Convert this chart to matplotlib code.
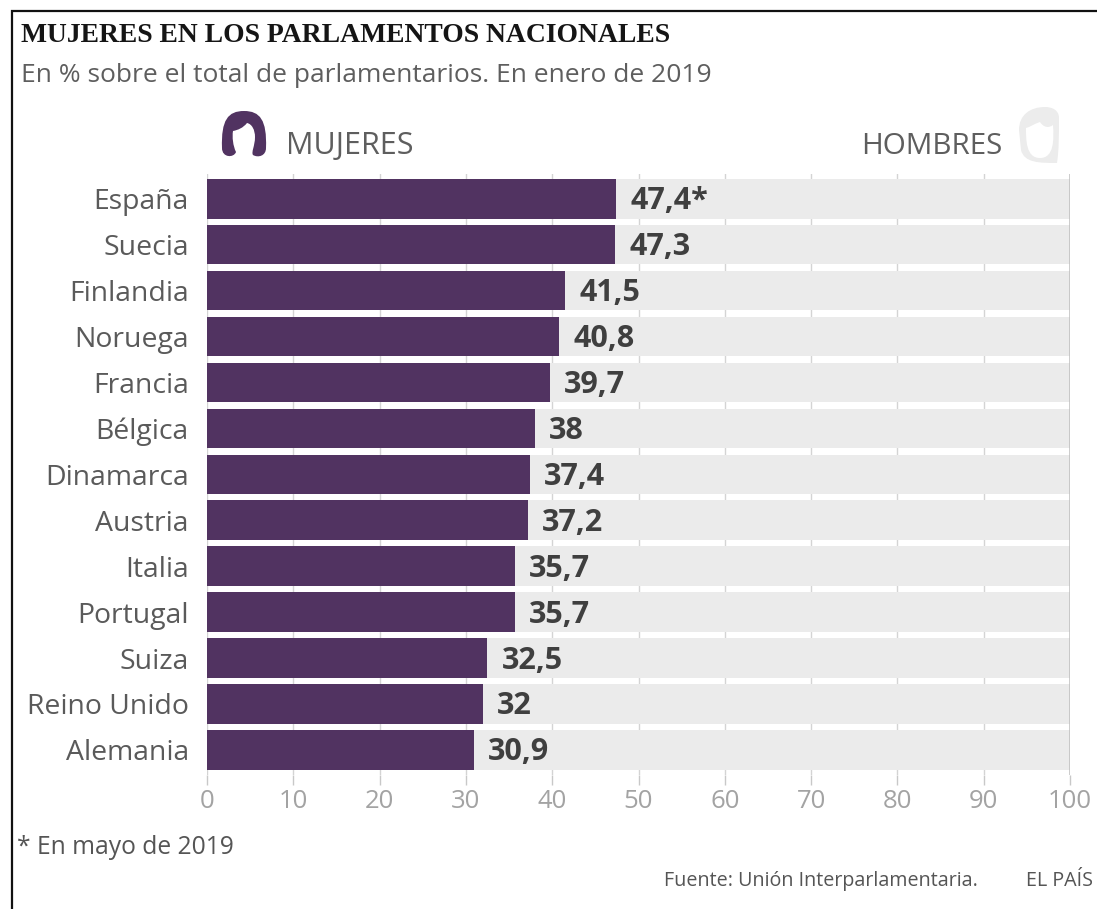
import matplotlib
matplotlib.use('Agg')
import matplotlib.pyplot as plt
from matplotlib.path import Path
from matplotlib.patches import PathPatch

# Data
paises = ['España', 'Suecia', 'Finlandia', 'Noruega', 'Francia', 'Bélgica', 'Dinamarca',
          'Austria', 'Italia', 'Portugal', 'Suiza', 'Reino Unido', 'Alemania']
mujeres = [47.4, 47.3, 41.5, 40.8, 39.7, 38, 37.4, 37.2, 35.7, 35.7, 32.5, 32, 30.9]
etiquetas = ['47,4*', '47,3', '41,5', '40,8', '39,7', '38', '37,4', '37,2', '35,7', '35,7', '32,5', '32', '30,9']
total = 100
ticks = [0, 10, 20, 30, 40, 50, 60, 70, 80, 90, 100]

W, H = 1097, 909
MORADO = '#513361'
GRIS = '#ebebeb'
TEXTO = '#555555'

plt.rcParams['font.family'] = ['Open Sans', 'DejaVu Sans']

fig = plt.figure(figsize=(W / 100, H / 100), dpi=100, facecolor='white')

# Main axes, pixel limits
top, bottom = 174, 775
ax = fig.add_axes([207 / W, 1 - bottom / H, 863 / W, (bottom - top) / H])
ypos = list(range(len(paises)))
pitch = 45.92
ax.set_ylim((bottom - 198.8) / pitch, (top - 198.8) / pitch)
ax.set_xlim(0, total)

ax.barh(ypos, [total] * len(paises), height=0.86, color=GRIS, zorder=2)
ax.barh(ypos, mujeres, height=0.86, color=MORADO, zorder=3)
for t in ticks[:-1]:
    ax.axvline(t, color='#d4d4d4', lw=1, zorder=1)
ax.axvline(100, color='#bdbdbd', lw=1.8, zorder=4)

for y, v, e in zip(ypos, mujeres, etiquetas):
    ax.annotate(e, (v, y), xytext=(14, 1), textcoords='offset pixels', va='center_baseline', ha='left',
                fontsize=22, fontweight='bold', color='#3f3f3f', zorder=5)

ax.set_yticks(ypos)
ax.set_yticklabels(paises, fontsize=20.4, color='#5a5a5a')
ax.set_xticks(ticks)
ax.set_xticklabels(ticks, fontsize=18.5, color='#a3a3a3')
ax.tick_params(axis='y', length=0, pad=13)
ax.tick_params(axis='x', length=7, width=1, color='#c8c8c8', pad=3)
for s in ax.spines.values():
    s.set_visible(False)

# Overlay in pixel coordinates for the frame, texts and icons
ov = fig.add_axes([0, 0, 1, 1], zorder=10)
ov.set_xlim(0, W)
ov.set_ylim(H, 0)
ov.axis('off')
ov.patch.set_alpha(0)

ov.plot([12, 12, W], [H, 11, 11], color='#111111', lw=1.6, solid_joinstyle='miter')

ov.text(21, 35, 'MUJERES EN LOS PARLAMENTOS NACIONALES', fontsize=19.9, fontweight='bold',
        family='Liberation Serif', color='#151515', va='center', ha='left')
ov.text(21, 75, 'En % sobre el total de parlamentarios. En enero de 2019', fontsize=19,
        color='#5e5e5e', va='center', ha='left')
ov.text(286, 146, 'MUJERES', fontsize=22, color='#5e5e5e', va='center', ha='left')
ov.text(1002, 146, 'HOMBRES', fontsize=21.3, color='#5e5e5e', va='center', ha='right')
ov.text(17, 848, '* En mayo de 2019', fontsize=17.7, color='#555555', va='center', ha='left')
ov.text(664, 881, 'Fuente: Unión Interparlamentaria.', fontsize=14.2, color=TEXTO, va='center', ha='left')
ov.text(1026, 881, 'EL PAÍS', fontsize=14.2, color=TEXTO, va='center', ha='left', clip_on=True)

# Woman icon
M, L, C, Z = Path.MOVETO, Path.LINETO, Path.CURVE4, Path.CLOSEPOLY
mujer = Path(
    [(222, 148), (221, 120), (228, 111), (244, 111), (260, 111), (267, 120), (266, 148),
     (266, 156), (258, 158), (253, 155), (251, 152), (255, 146), (255, 137),
     (255, 130), (252, 124), (247, 123), (243, 128), (238, 130), (233, 131),
     (232, 137), (233, 146), (236, 152), (234, 158), (222, 158), (222, 148), (222, 148)],
    [M, C, C, C, C, C, C,
     C, C, C, C, C, C,
     C, C, C, C, C, C,
     C, C, C, C, C, C, Z])
ov.add_patch(PathPatch(mujer, fc=MORADO, ec='none'))

# Man icon: outer shape plus the face, drawn in the opposite direction to leave it open
hombre = Path(
    [(1019, 130), (1019, 115), (1030, 107), (1045, 107), (1052, 107), (1059, 110), (1059, 118),
     (1059, 135), (1059, 150), (1057, 163), (1040, 163), (1024, 163), (1021, 150), (1019, 130), (1019, 130),
     (1026, 128), (1026, 140), (1026, 158), (1040, 158), (1054, 158), (1054, 140), (1053, 125),
     (1049, 128), (1044, 128), (1040, 122), (1034, 124), (1030, 127), (1026, 128), (1026, 128)],
    [M, C, C, C, C, C, C, C, C, C, C, C, C, L, Z,
     M, C, C, C, C, C, C, C, C, C, C, C, L, Z])
ov.add_patch(PathPatch(hombre, fc='#ececec', ec='none'))

fig.savefig('out.png', dpi=100, facecolor='white')
